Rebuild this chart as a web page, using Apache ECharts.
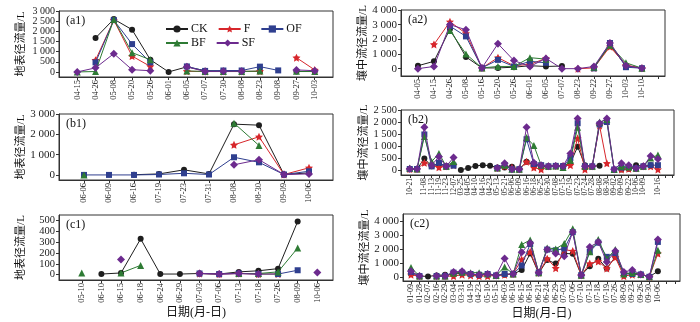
<!DOCTYPE html>
<html><head><meta charset="utf-8">
<script src="https://cdn.jsdelivr.net/npm/echarts@6/dist/echarts.min.js"></script>
<style>html,body{margin:0;padding:0;background:#fff}#c{width:700px;height:322px}</style>
</head><body><div id="c"></div>
<script>
// ---------- DATA ----------
const seriesNames = ['CK', 'F', 'OF', 'BF', 'SF'];

const a1Dates = ['04-15','04-26','05-08','05-20','05-26','06-01','06-05','07-07','07-30','08-08','08-23','09-08','09-27','10-03'];
const a1CK = [null, 1670, 2600, 2080, 600, 0, 250, 60, 40, 30, 30, null, 20, 20];
const a1F  = [null, 580, 2550, 780, 270, null, 30, 20, 20, 20, 30, null, 700, 100];
const a1OF = [null, 470, 2550, 1370, 470, null, 270, 50, 70, 70, 260, 75, null, null];
const a1BF = [0, 20, 2580, 950, 600, null, 50, 20, 20, 20, 40, null, 30, 20];
const a1SF = [0, 200, 900, 110, 60, null, 250, 20, 30, 30, null, null, 100, 60];
const a1YTicks = [0, 500, 1000, 1500, 2000, 2500, 3000];

const a2Dates = ['04-05','04-15','04-26','05-08','05-16','05-20','05-26','06-01','06-05','07-07','08-23','09-22','09-27','10-03','10-10'];
const a2CK = [200, 500, 2700, 800, 50, 50, 100, 200, 150, 180, null, 100, 1600, 200, 30];
const a2F  = [null, 1650, 3200, 2400, 50, 750, 200, 300, 700, null, 0, 50, 1500, 250, 30];
const a2OF = [null, null, 2900, 2200, 50, 600, 150, 500, 400, null, null, 20, 1750, 100, 30];
const a2BF = [null, null, 2600, 1000, 50, 150, 150, 750, 650, null, null, 100, 1600, 400, 30];
const a2SF = [0, 150, 3000, 2650, 50, 1700, 550, 150, 700, 0, 0, 150, 1750, 200, 30];
const a2YTicks = [0, 1000, 2000, 3000, 4000];

const b1Dates = ['06-06','06-09','06-16','07-19','07-23','07-31','08-08','08-30','09-09','10-06'];
const b1CK = [null, null, 10, 50, 250, 50, 2500, 2450, 20, 100];
const b1F  = [null, null, null, null, null, null, 1480, 1880, 20, 350];
const b1OF = [0, 0, 0, 20, 80, 20, 870, 620, 20, 180];
const b1BF = [0, null, null, null, null, null, 2550, 1450, null, null];
const b1SF = [null, null, null, null, null, null, 500, 750, 20, 50];
const b1YTicks = [0, 1000, 2000, 3000];

const b2Dates = ['10-21','10-26','11-08','11-13','11-19','11-23','12-07','03-25','04-05','04-10','04-16','04-23','05-13','05-21','06-06','06-09','06-16','06-18','06-25','06-30','07-08','07-15','07-19','07-23','07-24','07-28','08-08','08-30','09-02','09-09','09-22','10-06','10-09','10-12','10-16'];
const b2CK = [40, 40, 480, 150, 250, 150, null, 0, 80, 170, 200, 180, 100, 100, 130, 30, 340, 200, 150, 150, 170, 170, 280, 970, 200, 150, 180, null, null, 20, 50, 200, 150, 200, null];
const b2F  = [40, 40, 300, 200, 110, 150, 200, null, null, null, null, null, 80, 150, 100, 30, 340, 100, 20, 150, 170, 170, 200, 1320, 20, 150, 1850, 280, null, 20, 50, 70, 150, 150, 20];
const b2OF = [40, 40, 1480, 150, 300, 150, 180, null, null, null, null, null, 80, 200, 30, 30, 1280, 250, 200, 150, 170, 160, 500, 1950, 150, 150, 1900, 2000, 20, 100, 120, 70, 150, 200, 200];
const b2BF = [80, 40, 1400, 350, 690, 150, 350, null, null, null, null, null, 80, 200, 30, 30, 1350, 1020, 200, 150, 170, 100, 400, 1780, 150, 150, 2000, 2100, 20, 150, 120, 70, 150, 500, 620];
const b2SF = [40, 40, 1780, 200, 550, 150, 520, null, null, null, null, null, 80, 280, 30, 30, 1780, 300, 200, 150, 170, 160, 690, 2150, 150, 150, 1950, 2150, 30, 280, 200, 70, 150, 580, 460];
const b2YTicks = [0, 500, 1000, 1500, 2000, 2500];

const c1Dates = ['05-10','06-10','06-15','06-18','06-24','06-29','07-03','07-06','07-13','07-18','07-26','08-09','10-06'];
const c1CK = [null, 5, 15, 330, 5, 5, 10, 5, 25, 35, 55, 490, null];
const c1F  = [null, null, null, null, null, null, 10, 5, 10, 5, 5, null, null];
const c1OF = [null, null, null, null, null, null, 10, 5, 10, 5, 5, 40, null];
const c1BF = [15, null, 15, 85, null, null, null, null, 10, 10, 25, 245, null];
const c1SF = [null, null, 140, null, null, null, 10, 5, 10, 5, null, null, 20];
const c1YTicks = [0, 100, 200, 300, 400, 500];

const c2Dates = ['01-09','01-28','02-07','02-16','02-29','03-04','03-31','04-19','04-23','05-10','05-15','06-03','06-10','06-15','06-18','06-21','06-24','06-29','07-03','07-06','07-10','07-13','07-18','07-19','07-26','08-09','09-23','09-26','09-30','10-06'];
const c2CK = [200, 50, 30, 100, 150, 200, 250, 150, 100, 200, 100, 150, 200, 480, 1670, 250, 1200, 950, 1670, 1650, 120, 760, 1290, 600, 1430, 300, 200, 170, 0, 400];
const c2F  = [150, 50, null, 50, 50, 50, 150, 100, 50, 50, 100, 150, 200, 1240, 1790, 300, 1300, 620, 1950, 1850, 120, 950, 1100, 600, 1400, 50, 150, 170, 0, 1670];
const c2OF = [350, 50, null, 50, 50, 300, 300, 200, 150, 200, 100, 200, 200, 810, 2350, 300, 1950, 1900, 2020, 3200, 120, 1790, 2450, 1430, 1700, 200, 200, 170, 0, 2500];
const c2BF = [670, 50, null, 50, 50, 250, 350, 300, 300, 200, 100, 710, 200, 2310, 2640, 300, 2070, 2000, 2380, 3450, 120, 1800, 2670, 1300, 1950, 200, 300, 170, 0, 1900];
const c2SF = [400, 50, null, 50, 50, 350, 400, 200, 150, 200, 100, 1310, 200, 1760, 2430, 300, 1950, 1670, 1480, 3210, 120, 2140, 2500, 1070, 1850, 350, 480, 170, 0, 2670];
const c2YTicks = [0, 1000, 2000, 3000, 4000];

const nameSurface = '地表径流量/L';
const nameInter = '壤中流径流量/L';
const nameDate = '日期(月-日)';

// ---------- STYLE / LAYOUT ----------
const SERIF = '"Liberation Serif", "Noto Sans CJK SC", serif';
const colors = { CK: '#1e1e1e', F: '#d7262b', OF: '#2f3f8f', BF: '#2e7b34', SF: '#6c2a8e' };
const STAR = 'path://M0,-10 L2.9,-4 L9.5,-3.1 L4.7,1.5 L5.9,8.1 L0,5 L-5.9,8.1 L-4.7,1.5 L-9.5,-3.1 L-2.9,-4 Z';
const symbols = { CK: 'circle', F: STAR, OF: 'rect', BF: 'triangle', SF: 'diamond' };
const symbolSizes = { CK: 6, F: 8, OF: 6, BF: 7, SF: 8 };

const panels = [
  { label: '(a1)', dates: a1Dates, data: [a1CK, a1F, a1OF, a1BF, a1SF], yTicks: a1YTicks, yName: nameSurface, xName: '',
    grid: { left: 59, top: 11, width: 274, height: 66 }, xr: [-1, 14], yr: [-250, 3000], extra: 0, xfs: 8.5, yfs: 10, nameGap: 32 },
  { label: '(a2)', dates: a2Dates, data: [a2CK, a2F, a2OF, a2BF, a2SF], yTicks: a2YTicks, yName: nameInter, xName: '',
    grid: { left: 401, top: 10, width: 264, height: 66 }, xr: [-1.06, 15.44], yr: [-500, 4000], extra: 1, xfs: 8.5, yfs: 11, nameGap: 30 },
  { label: '(b1)', dates: b1Dates, data: [b1CK, b1F, b1OF, b1BF, b1SF], yTicks: b1YTicks, yName: nameSurface, xName: '',
    grid: { left: 59, top: 114, width: 274, height: 66 }, xr: [-1, 9.96], yr: [-250, 3000], extra: 0, xfs: 8.5, yfs: 11, nameGap: 32 },
  { label: '(b2)', dates: b2Dates, data: [b2CK, b2F, b2OF, b2BF, b2SF], yTicks: b2YTicks, yName: nameInter, xName: '',
    grid: { left: 401, top: 110, width: 273, height: 65 }, xr: [-1.2, 36.2], yr: [-210, 2500], extra: 2, xfs: 7.5, yfs: 10.5, nameGap: 30 },
  { label: '(c1)', dates: c1Dates, data: [c1CK, c1F, c1OF, c1BF, c1SF], yTicks: c1YTicks, yName: nameSurface, xName: nameDate,
    grid: { left: 59, top: 215, width: 274, height: 65 }, xr: [-1.16, 12.8], yr: [-50, 550], extra: 0, xfs: 8.5, yfs: 10.5, nameGap: 32 },
  { label: '(c2)', dates: c2Dates, data: [c2CK, c2F, c2OF, c2BF, c2SF], yTicks: c2YTicks, yName: nameInter, xName: nameDate,
    grid: { left: 403, top: 214, width: 277, height: 67 }, xr: [-0.94, 31.6], yr: [-300, 4500], extra: 2, xfs: 8, yfs: 11, nameGap: 30 }
];

function fmtY(v) {
  if (v >= 1000) return Math.floor(v / 1000) + ' ' + String(v % 1000).padStart(3, '0');
  return String(v);
}

const grids = [], xAxes = [], yAxes = [], series = [], graphics = [];
panels.forEach((p, k) => {
  grids.push(Object.assign({ show: true, borderColor: '#333', borderWidth: 1, containLabel: false }, p.grid));
  const idx = p.dates.map((d, i) => i);
  const tickIdx = idx.slice();
  for (let e = 0; e < p.extra; e++) tickIdx.push(p.dates.length + e);
  xAxes.push({
    type: 'value', gridIndex: k, min: p.xr[0], max: p.xr[1],
    name: p.xName, nameLocation: 'middle', nameGap: 27,
    nameTextStyle: { fontFamily: SERIF, fontSize: 12, color: '#111' },
    axisLine: { show: true, onZero: false, lineStyle: { color: '#333', width: 1 } },
    axisTick: { show: true, length: 3, customValues: tickIdx, lineStyle: { color: '#333' } },
    axisLabel: { customValues: idx, rotate: 90, margin: 3, fontFamily: SERIF, fontSize: p.xfs, color: '#222',
      hideOverlap: false, showMinLabel: true, showMaxLabel: true,
      formatter: v => p.dates[Math.round(v)] || '' },
    splitLine: { show: false }
  });
  yAxes.push({
    type: 'value', gridIndex: k, min: p.yr[0], max: p.yr[1],
    name: p.yName, nameLocation: 'middle', nameRotate: 90, nameGap: p.nameGap,
    nameTextStyle: { fontFamily: SERIF, fontSize: 11, color: '#111' },
    axisLine: { show: true, onZero: false, lineStyle: { color: '#333', width: 1 } },
    axisTick: { show: true, length: 3, customValues: p.yTicks, lineStyle: { color: '#333' } },
    axisLabel: { customValues: p.yTicks, margin: 4, fontFamily: SERIF, fontSize: p.yfs, color: '#222',
      hideOverlap: false, showMinLabel: true, showMaxLabel: true, formatter: fmtY },
    splitLine: { show: false }
  });
  seriesNames.forEach((n, j) => {
    series.push({
      name: n, type: 'line', xAxisIndex: k, yAxisIndex: k,
      data: p.data[j].map((v, i) => [i, v]),
      connectNulls: false, showAllSymbol: true,
      symbol: symbols[n], symbolSize: symbolSizes[n],
      lineStyle: { color: colors[n], width: 1 },
      itemStyle: { color: colors[n] },
      z: 2 + j
    });
  });
  graphics.push({
    type: 'text', left: p.grid.left + 7, top: p.grid.top + 4,
    style: { text: p.label, font: '12px "Liberation Serif", serif', fill: '#111' }
  });
});

const legendBase = {
  left: 160, itemWidth: 22, itemHeight: 9, itemGap: 10,
  textStyle: { fontFamily: SERIF, fontSize: 12, color: '#111', padding: [0, 0, 0, -2] }
};

const option = {
  animation: false,
  backgroundColor: '#fff',
  grid: grids, xAxis: xAxes, yAxis: yAxes, series: series,
  legend: [
    Object.assign({}, legendBase, { top: 18, data: ['CK', 'F', 'OF'] }),
    Object.assign({}, legendBase, { top: 32, data: ['BF', 'SF'] })
  ],
  graphic: graphics
};

const chart = echarts.init(document.getElementById('c'), null, { renderer: 'canvas' });
chart.setOption(option);
</script></body></html>
